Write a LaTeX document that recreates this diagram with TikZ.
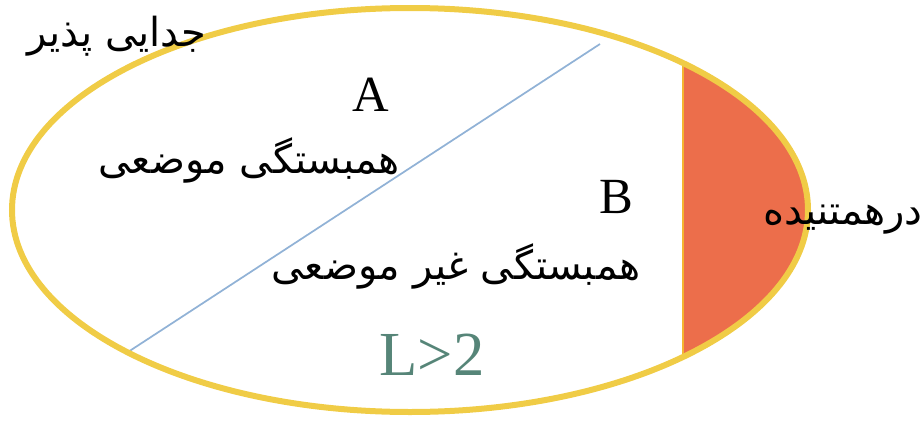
\documentclass[tikz,border=0pt]{standalone}
\usepackage{fontspec}
\setmainfont{Liberation Serif}
\newfontfamily\arabicfont[Script=Arabic]{DejaVu Sans}
\TeXXeTstate=1
\definecolor{ellyellow}{RGB}{240,204,70}
\definecolor{entorange}{RGB}{236,110,75}
\definecolor{cutblue}{RGB}{145,178,214}
\definecolor{lteal}{RGB}{86,133,120}
\begin{document}
\begin{tikzpicture}[x=0.75pt,y=-0.75pt,
  fa/.style={inner sep=0pt,font=\arabicfont\fontsize{30}{34}\selectfont},
  latin/.style={inner sep=0pt,font=\fontsize{38}{42}\selectfont}]
\useasboundingbox (0,0) rectangle (924,421);
\begin{scope}
  \clip (410,210) ellipse [x radius=398, y radius=202];
  \fill[entorange] (683,0) rectangle (924,421);
\end{scope}
\draw[ellyellow!70!orange,line width=1pt] (683,63) -- (683,357);
\draw[cutblue,line width=1.3pt] (128,352) coordinate (c1) -- (600,44) coordinate (c2);
\draw[ellyellow,line width=4.5pt] (410,210) ellipse [x radius=398, y radius=202];
\node[fa] (sep) at (117,36) {\beginR جدایی پذیر\endR};
\node[latin] (A) at (371,95) {A};
\node[fa] (loc) at (249,160) {\beginR همبستگی موضعی\endR};
\node[latin] (B) at (616,197) {B};
\node[fa] (nonloc) at (456,266) {\beginR همبستگی غیر موضعی\endR};
\node[fa] (ent) at (843,220) {\beginR درهمتنیده\endR};
\node[inner sep=0pt,text=lteal,font=\fontsize{47}{52}\selectfont] (L) at (432,355) {L>2};
\end{tikzpicture}
\end{document}
